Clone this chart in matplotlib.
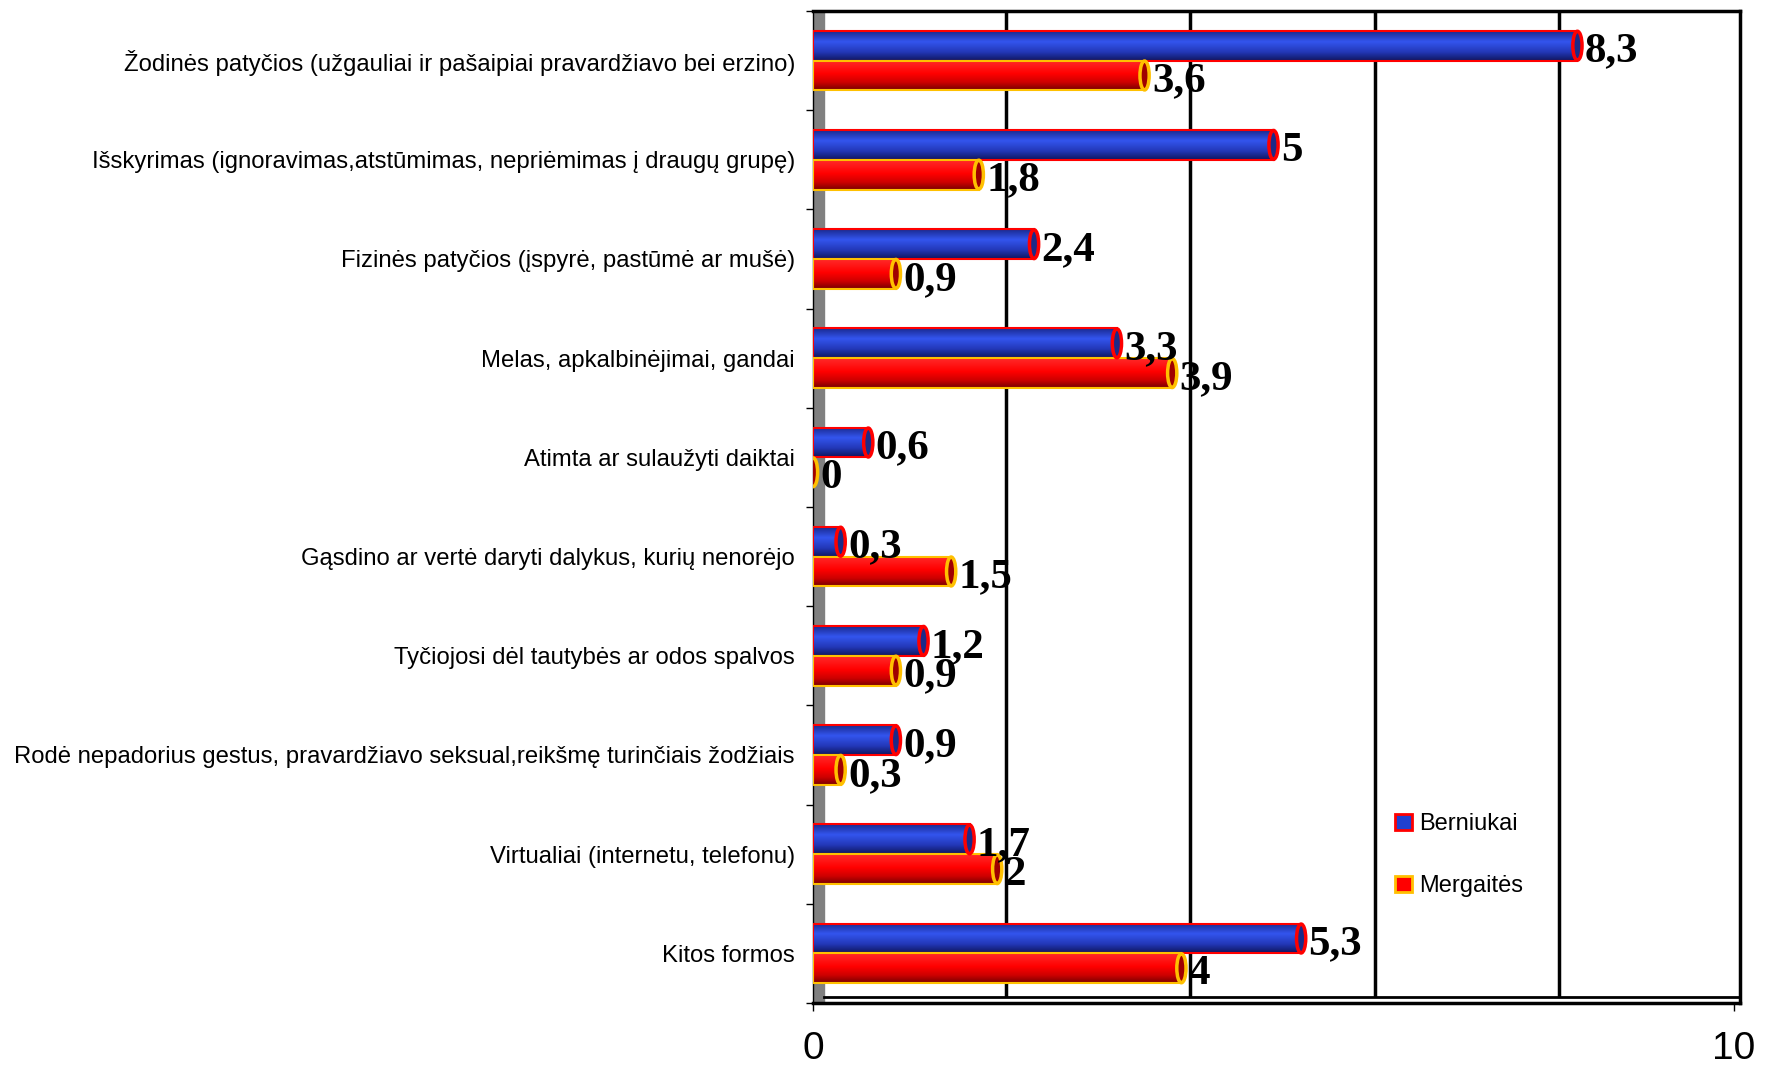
import matplotlib
matplotlib.use("Agg")
import matplotlib.pyplot as plt
import numpy as np
from matplotlib.colors import LinearSegmentedColormap
from matplotlib.patches import Ellipse, Patch
from matplotlib.transforms import offset_copy

categories = [
    "Žodinės patyčios (užgauliai ir pašaipiai pravardžiavo bei erzino)",
    "Išskyrimas (ignoravimas,atstūmimas, nepriėmimas į draugų grupę)",
    "Fizinės patyčios (įspyrė, pastūmė ar mušė)",
    "Melas, apkalbinėjimai, gandai",
    "Atimta ar sulaužyti daiktai",
    "Gąsdino ar vertė daryti dalykus, kurių nenorėjo",
    "Tyčiojosi dėl tautybės ar odos spalvos",
    "Rodė nepadorius gestus, pravardžiavo seksual,reikšmę turinčiais žodžiais",
    "Virtualiai (internetu, telefonu)",
    "Kitos formos",
]
berniukai = [8.3, 5, 2.4, 3.3, 0.6, 0.3, 1.2, 0.9, 1.7, 5.3]
mergaites = [3.6, 1.8, 0.9, 3.9, 0, 1.5, 0.9, 0.3, 2, 4]
series_names = ["Berniukai", "Mergaitės"]

blue_cm = LinearSegmentedColormap.from_list(
    "b", [(0, "#1a2a90"), (0.35, "#3355ee"), (0.7, "#2338b8"), (1, "#0f1660")])
red_cm = LinearSegmentedColormap.from_list(
    "r", [(0, "#ff2a2a"), (0.45, "#ff0000"), (0.75, "#cc0000"), (1, "#780000")])
grad = np.linspace(0, 1, 64).reshape(-1, 1)

fig = plt.figure(figsize=(17.66, 10.66), dpi=100)
ax = fig.add_axes([813 / 1766, 1 - 1003 / 1066, 927 / 1766, 992 / 1066])

y = np.arange(len(categories))
h = 0.3
cap_w = 0.1

series = [
    (berniukai, -h / 2, blue_cm, "red", "#1c2a88"),
    (mergaites, h / 2, red_cm, "#ffc000", "#a00000"),
]

for vals, off, cm, edge, capface in series:
    bars = ax.barh(y + off, vals, height=h, facecolor="none",
                   edgecolor=edge, linewidth=1.5, zorder=4)
    for bar, v in zip(bars, vals):
        yc = bar.get_y() + bar.get_height() / 2
        if v > 0:
            ax.imshow(grad, cmap=cm, aspect="auto", origin="upper",
                      extent=[bar.get_x(), bar.get_x() + bar.get_width(),
                              bar.get_y() + bar.get_height(), bar.get_y()],
                      zorder=3, interpolation="bilinear")
            ax.add_patch(Ellipse((0, yc), cap_w, h, facecolor=cm(0.4),
                                 edgecolor=edge, lw=1.5, zorder=2))
        ax.add_patch(Ellipse((v, yc), cap_w, h * 0.97, facecolor=capface,
                             edgecolor=edge, lw=2.5, zorder=5))
        ax.text(v + cap_w * 0.8, yc + 0.06, f"{v:g}".replace(".", ","),
                ha="left", va="center", fontsize=31, fontweight="bold",
                family="Liberation Serif", zorder=6)

ax.set_xlim(0, 10.065)
ax.set_ylim(len(categories) - 0.5, -0.5)

# grey side wall
ax.axvspan(0, 0.12, color="#808080", zorder=1)

# back-wall gridlines, shifted by the 3D depth
gt = offset_copy(ax.get_xaxis_transform(), fig=fig, x=9, y=0, units="dots")
ax.vlines([2, 4, 6, 8], 0.006, 1, colors="black", linewidth=2.5,
          transform=gt, zorder=1)
ax.plot([0.012, 1], [0.006, 0.006], color="black", lw=2,
        transform=ax.transAxes, clip_on=False, zorder=1)

for s in ["top", "right", "bottom"]:
    ax.spines[s].set_linewidth(2.5)
ax.spines["left"].set_linewidth(1)

ax.set_xticks([0, 10])
ax.set_xticklabels(["0", "10"], fontsize=28, family="Liberation Sans")
ax.tick_params(axis="x", length=6, width=1, pad=14)

ax.set_yticks(y)
ax.set_yticklabels(categories, fontsize=17.2, family="Liberation Sans")
ax.set_yticks(np.arange(len(categories) + 1) - 0.5, minor=True)
ax.tick_params(axis="y", which="major", length=0, pad=13)
ax.tick_params(axis="y", which="minor", length=5, width=1)
for lbl in ax.get_yticklabels():
    lbl.set_y(lbl.get_position()[1])
    lbl.set_va("center_baseline")

handles = [
    Patch(facecolor="#2040d0", edgecolor="red", linewidth=2),
    Patch(facecolor="red", edgecolor="#ffc000", linewidth=2),
]
fig.legend(handles, series_names, loc="upper left",
           bbox_to_anchor=(1374 / 1766, 1 - 792 / 1066), frameon=False,
           prop={"family": "Liberation Sans", "size": 17}, handlelength=0.7,
           handleheight=0.7, handletextpad=0.3, labelspacing=1.7)

fig.savefig("out.png", dpi=100)
